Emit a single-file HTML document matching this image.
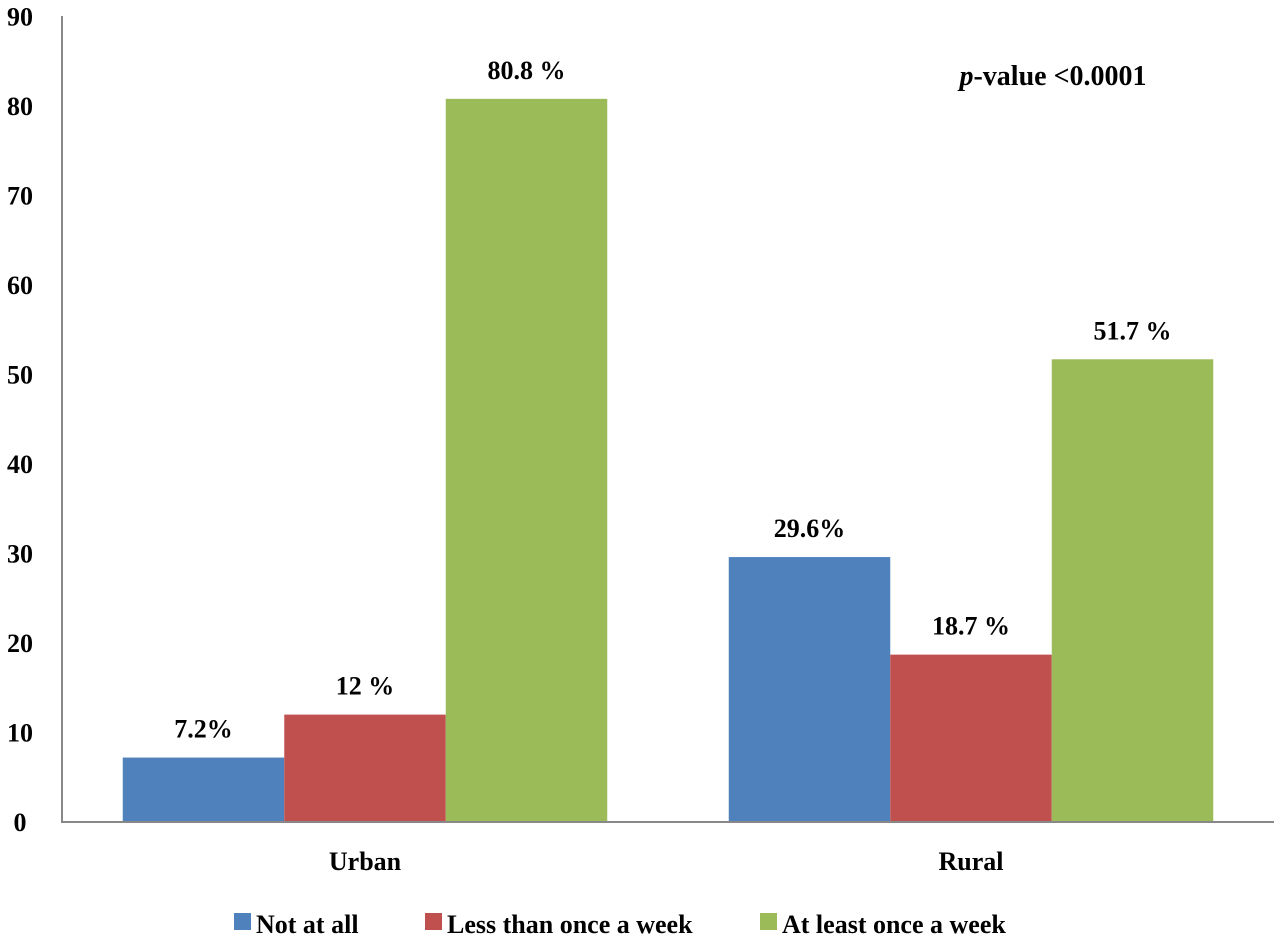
<!DOCTYPE html>
<html><head><meta charset="utf-8"><style>
body{margin:0;background:#fff}
svg{display:block;font-family:"Liberation Serif",serif;font-weight:bold}
</style></head><body>
<svg width="1280" height="940">
<g id="axes"></g><g id="bars"></g><g id="labels"></g>
<text x="1053" y="85" font-size="28" text-anchor="middle"><tspan font-style="italic">p</tspan>-value &lt;0.0001</text>
<g>
<rect x="234" y="913" width="17" height="17" fill="#4f81bd"/>
<text x="256" y="933" font-size="26">Not at all</text>
<rect x="425" y="913" width="17" height="17" fill="#c0504d"/>
<text x="447" y="933" font-size="26">Less than once a week</text>
<rect x="760" y="913" width="17" height="17" fill="#9bbb59"/>
<text x="782" y="933" font-size="26">At least once a week</text>
</g>
</svg>
<script>
const categories=["Urban","Rural"];
const notAtAll=[7.2,29.6];
const lessThanOnce=[12,18.7];
const atLeastOnce=[80.8,51.7];
const valueLabels=[["7.2%","12 %","80.8 %"],["29.6%","18.7 %","51.7 %"]];
const yTicks=[0,10,20,30,40,50,60,70,80,90];
const NS="http://www.w3.org/2000/svg";
const x0=62,y0=822,yMax=90,plotTop=16.5;
const y=v=>y0-(v/yMax)*(y0-plotTop);
const groupCenter=i=>365+i*606, barW=161.5;
const colors=["#4f81bd","#c0504d","#9bbb59"];
const series=[notAtAll,lessThanOnce,atLeastOnce];
const sNames=["not-at-all","less-than-once","at-least-once"];
function mk(tag,attrs,parent,text){const e=document.createElementNS(NS,tag);for(const k in attrs)e.setAttribute(k,attrs[k]);if(text!==undefined)e.textContent=text;parent.appendChild(e);return e;}
const axes=document.getElementById('axes'),bars=document.getElementById('bars'),labels=document.getElementById('labels');
yTicks.forEach(t=>{const e=mk('text',{x:20,y:y(t)+9,'font-size':26,'text-anchor':'middle'},axes,t);

});
categories.forEach((c,i)=>{
 series.forEach((s,j)=>{const bx=groupCenter(i)+(j-1.5)*barW;
  const r=mk('rect',{x:bx,y:y(s[i]),width:barW,height:y0-y(s[i]),fill:colors[j]},bars);
  
  
  const t=mk('text',{x:bx+barW/2,y:y(s[i])-20,'font-size':26,'text-anchor':'middle'},labels,valueLabels[i][j]);
  
  
 });
 const ct=mk('text',{x:groupCenter(i),y:870,'font-size':26,'text-anchor':'middle'},labels,c);
 
 
});
const ya=mk('line',{x1:x0,y1:16,x2:x0,y2:y0,stroke:'#888','stroke-width':2},axes);


const xa=mk('line',{x1:x0-1,y1:y0,x2:1274,y2:y0,stroke:'#888','stroke-width':2},bars);


</script>
</body></html>
